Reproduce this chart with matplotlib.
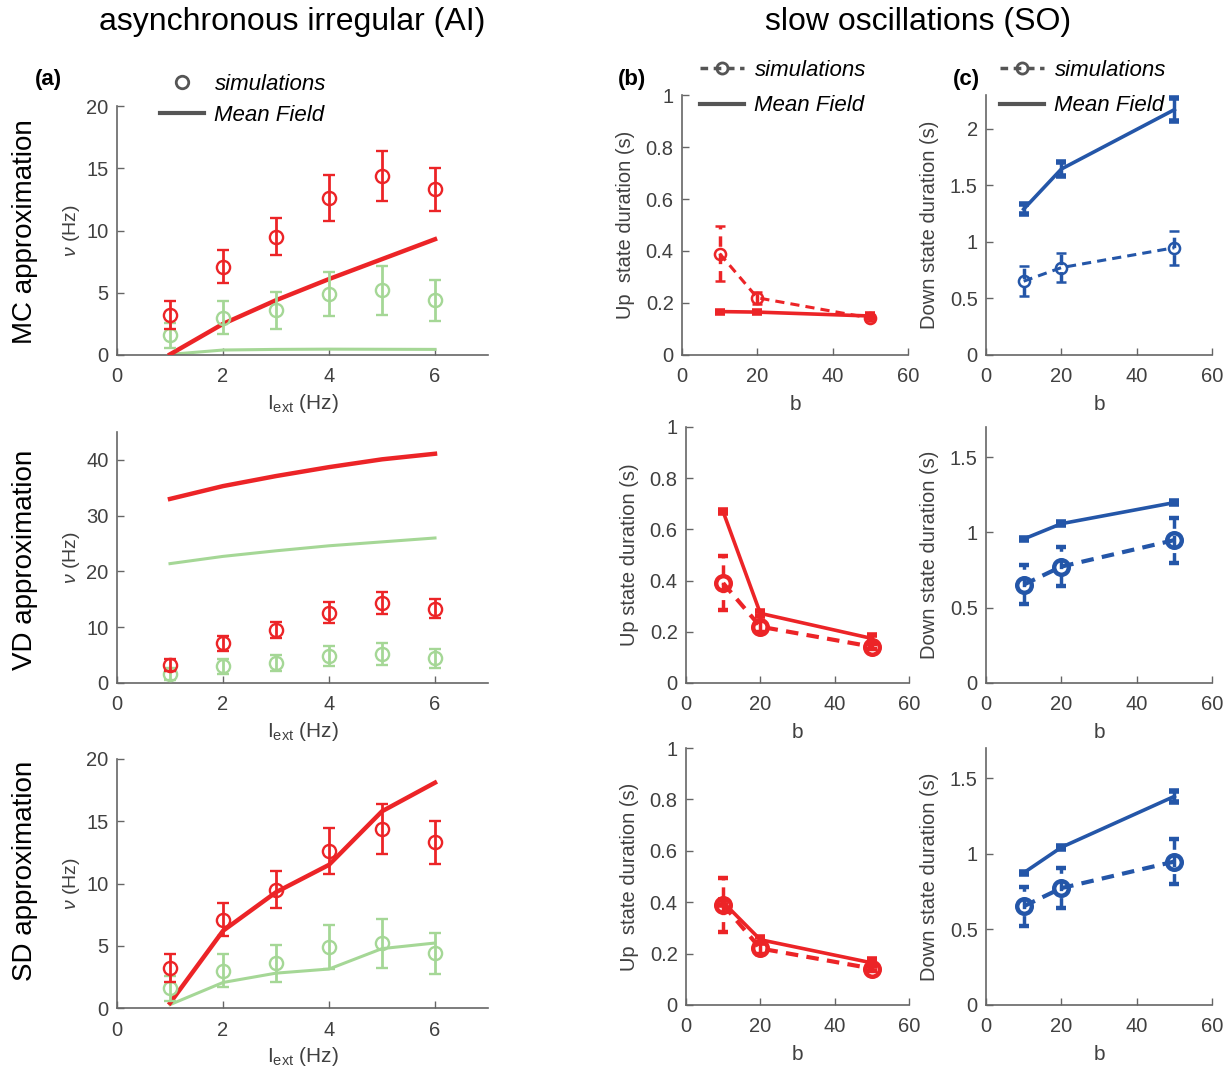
import matplotlib
matplotlib.use('Agg')
import matplotlib.pyplot as plt
from matplotlib.lines import Line2D
from matplotlib.ticker import FuncFormatter

plt.rcParams['font.family'] = ['Liberation Sans', 'DejaVu Sans']
plt.rcParams['mathtext.fontset'] = 'custom'
plt.rcParams['mathtext.rm'] = 'Liberation Sans'
plt.rcParams['mathtext.it'] = 'Liberation Sans:italic'

# ---------------- data ----------------
iext = [1, 2, 3, 4, 5, 6]
# simulations (same in all AI rows)
sim_red = [3.2, 7.1, 9.5, 12.6, 14.4, 13.3]
sim_red_err = [1.1, 1.35, 1.5, 1.85, 2.0, 1.7]
sim_green = [1.6, 3.0, 3.6, 4.9, 5.2, 4.4]
sim_green_err = [1.0, 1.35, 1.5, 1.8, 1.95, 1.65]
# mean field, AI
mc_red = [0.05, 2.5, 4.4, 6.1, 7.7, 9.3]
mc_green = [0.05, 0.4, 0.45, 0.47, 0.46, 0.45]
vd_red = [33.0, 35.3, 37.1, 38.7, 40.1, 41.1]
vd_green = [21.4, 22.7, 23.7, 24.6, 25.3, 26.0]
sd_red = [0.4, 6.2, 9.3, 11.5, 15.8, 18.1]
sd_green = [0.27, 2.05, 2.8, 3.13, 4.77, 5.22]

# slow oscillations
b_vals = [10, 20, 50]
up_sim = [0.39, 0.22, 0.142]
up_sim_err = [0.105, 0.022, 0.01]
down_sim = [0.653, 0.773, 0.949]
down_sim_err = [0.13, 0.13, 0.15]
up_mc = [0.167, 0.165, 0.15]
up_mc_err = [0.004, 0.004, 0.006]
up_vd = [0.669, 0.272, 0.174]
up_vd_err = [0.005, 0.01, 0.015]
up_sd = [0.40, 0.254, 0.164]
up_sd_err = [0.01, 0.012, 0.014]
down_mc = [1.29, 1.645, 2.17]
down_mc_err = [0.045, 0.065, 0.1]
down_vd = [0.956, 1.058, 1.198]
down_vd_err = [0.006, 0.008, 0.012]
down_sd = [0.874, 1.043, 1.38]
down_sd_err = [0.008, 0.01, 0.035]

RED = '#EC2427'
GREEN = '#A5D796'
BLUE = '#2456A8'
GRAY = '#555555'
TXT = '#404040'

W, H = 1232, 1075
fig = plt.figure(figsize=(W / 100, H / 100), dpi=100)


def px_axes(l, r, t, b):
    return fig.add_axes([l / W, 1 - b / H, (r - l) / W, (b - t) / H])


gfmt = FuncFormatter(lambda v, p: '%g' % v)


def style(ax):
    for s in ['top', 'right']:
        ax.spines[s].set_visible(False)
    for s in ['left', 'bottom']:
        ax.spines[s].set_color('#666666')
        ax.spines[s].set_linewidth(1.2)
    ax.tick_params(direction='in', length=5, width=1, labelsize=14.5,
                   colors='#666666', labelcolor=TXT)
    ax.tick_params(axis='x', pad=9)
    ax.tick_params(axis='y', pad=6)
    ax.yaxis.set_major_formatter(gfmt)
    ax.xaxis.set_major_formatter(gfmt)


# ---------- AI column ----------
ai_rows = [(106, 355, mc_red, mc_green, 20, [0, 5, 10, 15, 20]),
           (432, 683, vd_red, vd_green, 45, [0, 10, 20, 30, 40]),
           (759, 1008, sd_red, sd_green, 20, [0, 5, 10, 15, 20])]
for (t, bt, mred, mgreen, ymax, yt) in ai_rows:
    ax = px_axes(117, 488, t, bt)
    style(ax)
    ax.plot(iext, mgreen, color=GREEN, lw=2.2, zorder=2)
    ax.plot(iext, mred, color=RED, lw=3.2, zorder=3)
    ax.errorbar(iext, sim_green, yerr=sim_green_err, fmt='o', color=GREEN,
                mfc='none', ms=9.5, mew=1.7, elinewidth=2, capsize=4.5, capthick=2, zorder=4)
    ax.errorbar(iext, sim_red, yerr=sim_red_err, fmt='o', color=RED,
                mfc='none', ms=9.5, mew=1.7, elinewidth=2, capsize=4.5, capthick=2, zorder=5)
    ax.set_xlim(0, 7)
    ax.set_ylim(0, ymax)
    ax.set_xticks([0, 2, 4, 6])
    ax.set_yticks(yt)
    ax.set_xlabel('I$_{\\mathrm{ext}}$ (Hz)', fontsize=15, color=TXT, labelpad=4)
    ax.set_ylabel('$\\nu$ (Hz)', fontsize=14, color=TXT, labelpad=3)

# ---------- SO columns ----------
so_rows = [(95, 355, up_mc, up_mc_err, down_mc, down_mc_err, 2.3, 'Up  state duration (s)', True),
           (427, 683, up_vd, up_vd_err, down_vd, down_vd_err, 1.7, 'Up state duration (s)', False),
           (748, 1005, up_sd, up_sd_err, down_sd, down_sd_err, 1.7, 'Up  state duration (s)', False)]


def so_plot(ax, sim, sim_err, mf, mf_err, color, first):
    ms = 8 if first else 10.5
    mew = 1.8 if first else 3.2
    slw = 2.2 if first else 3.0
    ax.errorbar(b_vals, mf, yerr=mf_err, fmt='-', color=color, lw=2.6,
                elinewidth=2.5, capsize=3.5, capthick=4, zorder=3)
    eb = ax.errorbar(b_vals, sim, yerr=sim_err, fmt='o', linestyle='--', color=color,
                     lw=slw, mfc='none', ms=ms, mew=mew, elinewidth=2.5,
                     capsize=3.5, capthick=4, zorder=4, dashes=(3, 2))
    for lc in eb[2]:
        lc.set_linestyle((0, (3, 2)))


for i, (t, bt, up, upe, dn, dne, dmax, uplabel, first) in enumerate(so_rows):
    lb = 682 if i == 0 else 686
    rb = 908 if i == 0 else 909
    ax = px_axes(lb, rb, t, bt)
    style(ax)
    so_plot(ax, up_sim, up_sim_err, up, upe, RED, first)
    ax.set_xlim(0, 60)
    ax.set_ylim(0, 1)
    ax.set_xticks([0, 20, 40, 60])
    ax.set_yticks([0, 0.2, 0.4, 0.6, 0.8, 1])
    ax.set_xlabel('b', fontsize=15, color=TXT, labelpad=6)
    ax.set_ylabel(uplabel, fontsize=14.5, color=TXT, labelpad=8)

    ax2 = px_axes(986, 1212, t, bt)
    style(ax2)
    so_plot(ax2, down_sim, down_sim_err, dn, dne, BLUE, first)
    ax2.set_xlim(0, 60)
    ax2.set_ylim(0, dmax)
    ax2.set_xticks([0, 20, 40, 60])
    ax2.set_yticks([0, 0.5, 1, 1.5, 2] if i == 0 else [0, 0.5, 1, 1.5])
    ax2.set_xlabel('b', fontsize=15, color=TXT, labelpad=6)
    ax2.set_ylabel('Down state duration (s)', fontsize=14.5, color=TXT, labelpad=8)

# ---------- legends ----------
leg_kw = dict(frameon=False, prop={'style': 'italic', 'size': 16},
              borderpad=0, borderaxespad=0, handletextpad=0.45, loc='upper left')
h_a = [Line2D([], [], ls='none', marker='o', mfc='none', mec=GRAY, ms=9, mew=2),
       Line2D([], [], color=GRAY, lw=3)]
fig.legend(h_a, ['simulations', 'Mean Field'], bbox_to_anchor=(160 / W, 1 - 74 / H),
           handlelength=2.0, labelspacing=0.45, **leg_kw)
h_b = [Line2D([], [], ls='--', dashes=(2.2, 1.6), color=GRAY, lw=2.5, marker='o',
              mfc='none', mec=GRAY, ms=8, mew=2),
       Line2D([], [], color=GRAY, lw=3)]
for x0 in (700, 1000):
    fig.legend(h_b, ['simulations', 'Mean Field'], bbox_to_anchor=(x0 / W, 1 - 60 / H),
               handlelength=2.0, labelspacing=0.65, **leg_kw)

# ---------- texts ----------
fig.text(292 / W, 1 - 22 / H, 'asynchronous irregular (AI)', fontsize=23,
         ha='center', va='center', color='black')
fig.text(918 / W, 1 - 22 / H, 'slow oscillations (SO)', fontsize=23,
         ha='center', va='center', color='black')
for x, lab in [(48, '(a)'), (632, '(b)'), (966, '(c)')]:
    fig.text(x / W, 1 - 80 / H, lab, fontsize=16, fontweight='bold',
             ha='center', va='center', color='black')
for y, lab in [(232, 'MC approximation'), (560, 'VD approximation'), (871, 'SD approximation')]:
    fig.text(25 / W, 1 - y / H, lab, fontsize=20, rotation=90,
             ha='center', va='center', color='black')

fig.savefig('out.png', dpi=100)
